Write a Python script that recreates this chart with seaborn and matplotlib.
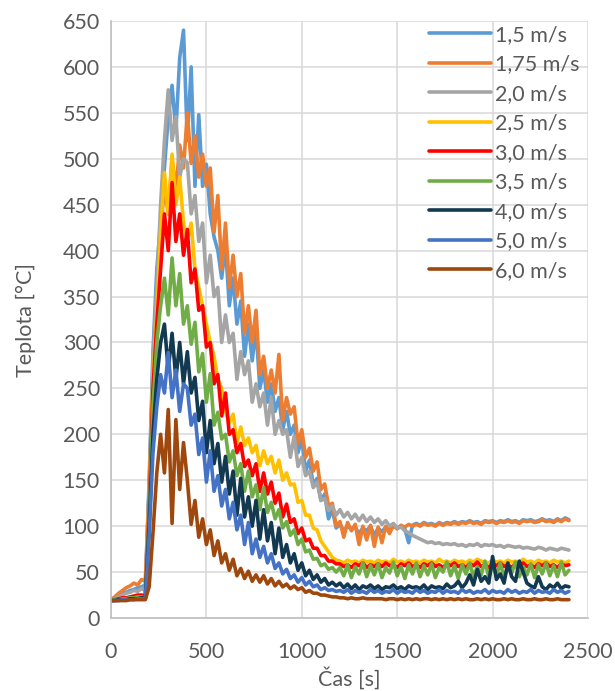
import numpy as np
import pandas as pd
import seaborn as sns
import matplotlib
matplotlib.use("Agg")
import matplotlib.pyplot as plt

# cas [s], krok 20 s
t = np.arange(0, 2401, 20)

labels = ["1,5 m/s", "1,75 m/s", "2,0 m/s", "2,5 m/s", "3,0 m/s",
          "3,5 m/s", "4,0 m/s", "5,0 m/s", "6,0 m/s"]
colors = ["#5B9BD5", "#ED7D31", "#A5A5A5", "#FFC000", "#FF0000",
          "#70AD47", "#12394F", "#4472C4", "#9E480E"]

v15 = [20, 22, 24, 27, 28, 30, 31, 33, 34, 36,
       150, 290, 380, 430, 490, 545, 580, 530, 610, 640,
       520, 600, 470, 548, 470, 494, 440, 415, 400, 370,
       405, 340, 370, 320, 345, 285, 320, 280, 315, 250,
       270, 235, 255, 225, 240, 205, 225, 200, 210, 180,
       195, 160, 172, 145, 152, 128, 135, 108, 118, 98,
       102, 95, 100, 97, 99, 92, 98, 95, 100, 90,
       98, 94, 99, 96, 100, 98, 100, 97, 82, 101,
       103, 101, 104, 102, 103, 101, 104, 102, 104, 103,
       105, 103, 105, 104, 106, 104, 105, 103, 106, 105,
       106, 104, 106, 105, 107, 105, 106, 104, 107, 106,
       107, 105, 106, 108, 106, 107, 105, 108, 106, 109, 107]

v175 = [20, 23, 27, 30, 33, 35, 38, 36, 42, 40,
        140, 270, 340, 420, 470, 440, 500, 465, 515, 490,
        550, 495, 525, 480, 505, 470, 490, 420, 460, 380,
        430, 360, 395, 350, 375, 310, 340, 300, 335, 265,
        285, 250, 270, 245, 287, 215, 240, 222, 230, 190,
        205, 175, 185, 160, 170, 140, 146, 122, 125, 100,
        105, 88, 104, 95, 102, 80, 100, 85, 101, 78,
        99, 82, 100, 92, 101, 97, 101, 99, 102, 100,
        102, 100, 103, 101, 102, 100, 103, 101, 103, 102,
        104, 102, 104, 103, 105, 103, 104, 102, 105, 104,
        105, 103, 105, 104, 106, 104, 105, 103, 106, 105,
        106, 104, 105, 107, 105, 106, 104, 107, 105, 108, 106]

v20 = [20, 21, 23, 25, 27, 28, 30, 29, 32, 30,
       140, 280, 360, 450, 520, 575, 520, 546, 480, 500,
       496, 440, 460, 410, 430, 365, 395, 350, 360, 300,
       330, 300, 310, 260, 290, 265, 280, 235, 255, 230,
       245, 210, 240, 200, 215, 200, 205, 175, 198, 165,
       175, 155, 160, 142, 148, 128, 130, 117, 122, 112,
       118, 110, 115, 108, 113, 106, 112, 105, 110, 104,
       108, 102, 106, 100, 103, 98, 99, 95, 93, 90,
       88, 86, 84, 82, 83, 81, 82, 80, 81, 80,
       81, 79, 80, 78, 80, 79, 81, 78, 80, 79,
       80, 78, 79, 77, 79, 78, 77, 78, 76, 77,
       76, 75, 77, 76, 74, 76, 75, 74, 76, 75, 74]

v25 = [20, 20, 21, 21, 22, 22, 23, 23, 24, 24,
       130, 260, 330, 420, 485, 440, 505, 450, 480, 430,
       412, 430, 380, 360, 340, 320, 300, 285, 260, 250,
       225, 212, 222, 190, 208, 188, 196, 180, 188, 166,
       182, 168, 176, 158, 172, 150, 158, 145, 146, 126,
       128, 112, 112, 98, 96, 84, 78, 72, 66, 63,
       62, 60, 63, 61, 62, 60, 63, 61, 62, 60,
       63, 61, 62, 60, 64, 61, 62, 60, 63, 61,
       62, 60, 63, 61, 62, 60, 64, 61, 62, 60,
       63, 61, 62, 60, 63, 61, 64, 62, 61, 60,
       63, 61, 62, 60, 63, 61, 62, 60, 64, 61,
       62, 60, 63, 61, 62, 60, 63, 61, 62, 60, 62]

v30 = [20, 20, 21, 22, 22, 23, 24, 25, 25, 24,
       120, 250, 320, 380, 440, 400, 474, 410, 440, 395,
       423, 365, 380, 335, 340, 295, 300, 255, 265, 220,
       245, 200, 205, 180, 190, 165, 172, 155, 168, 138,
       158, 135, 148, 125, 136, 110, 124, 104, 108, 92,
       98, 84, 86, 76, 76, 68, 68, 62, 62, 59,
       59, 56, 58, 55, 59, 57, 60, 55, 58, 56,
       59, 56, 60, 57, 58, 55, 59, 57, 60, 56,
       58, 55, 59, 57, 60, 56, 58, 55, 59, 57,
       60, 56, 58, 55, 59, 57, 61, 56, 58, 55,
       59, 57, 60, 56, 58, 55, 59, 57, 60, 56,
       58, 55, 59, 57, 60, 56, 58, 55, 59, 57, 58]

v35 = [20, 20, 20, 21, 21, 22, 22, 23, 23, 22,
       110, 230, 300, 340, 370, 330, 392, 340, 375, 320,
       340, 298, 322, 268, 288, 235, 266, 210, 224, 195,
       200, 170, 182, 155, 168, 138, 160, 132, 145, 118,
       142, 115, 126, 108, 118, 98, 105, 90, 96, 80,
       86, 72, 74, 64, 65, 57, 59, 53, 55, 50,
       55, 46, 58, 44, 56, 48, 60, 45, 57, 47,
       59, 44, 55, 49, 61, 46, 56, 43, 58, 48,
       60, 45, 57, 47, 59, 44, 55, 50, 61, 46,
       57, 43, 58, 48, 60, 45, 56, 47, 62, 44,
       58, 46, 60, 44, 57, 49, 61, 45, 56, 47,
       59, 44, 58, 48, 60, 46, 57, 45, 61, 47, 52]

v40 = [19, 19, 20, 20, 20, 21, 21, 21, 22, 22,
       100, 200, 260, 300, 320, 270, 310, 260, 300, 255,
       290, 245, 262, 215, 236, 180, 215, 168, 190, 148,
       176, 135, 160, 112, 152, 110, 132, 100, 128, 86,
       118, 84, 104, 70, 98, 66, 80, 60, 70, 52,
       60, 46, 52, 42, 47, 39, 43, 36, 39, 35,
       38, 33, 37, 32, 36, 31, 35, 33, 36, 32,
       35, 31, 34, 33, 36, 32, 34, 31, 35, 33,
       34, 32, 36, 31, 35, 33, 34, 32, 37, 33,
       35, 40, 33, 38, 47, 36, 53, 40, 45, 38,
       67, 42, 48, 38, 60, 45, 40, 62, 50, 38,
       35, 33, 45, 34, 31, 36, 33, 38, 32, 35, 34]

v50 = [19, 19, 19, 20, 20, 20, 20, 21, 21, 21,
       90, 180, 230, 265, 245, 289, 240, 270, 225, 255,
       250, 210, 222, 178, 196, 148, 182, 138, 155, 122,
       140, 108, 126, 96, 112, 80, 104, 70, 86, 66,
       78, 60, 70, 54, 60, 48, 53, 43, 47, 39,
       44, 36, 40, 34, 36, 31, 33, 30, 31, 29,
       30, 28, 31, 27, 30, 28, 29, 27, 31, 28,
       30, 27, 29, 28, 31, 27, 30, 28, 29, 27,
       31, 28, 30, 27, 29, 28, 31, 27, 30, 28,
       29, 27, 31, 28, 30, 27, 29, 28, 31, 27,
       30, 28, 29, 27, 31, 28, 30, 27, 29, 28,
       31, 27, 30, 28, 29, 27, 31, 28, 30, 27, 29]

v60 = [19, 19, 19, 19, 19, 20, 20, 20, 20, 20,
       34, 93, 158, 200, 158, 227, 103, 216, 140, 191,
       150, 102, 128, 88, 108, 80, 96, 68, 84, 60,
       70, 52, 64, 46, 54, 43, 51, 40, 47, 39,
       46, 37, 43, 35, 40, 34, 37, 32, 35, 31,
       33, 28, 30, 27, 27, 25, 25, 24, 23, 23,
       22, 22, 21, 22, 21, 21, 22, 21, 21, 21,
       21, 21, 20, 21, 21, 20, 21, 20, 21, 20,
       21, 20, 21, 21, 20, 21, 20, 21, 20, 21,
       20, 21, 20, 21, 20, 20, 21, 20, 21, 20,
       21, 20, 20, 21, 20, 21, 20, 20, 21, 20,
       20, 21, 20, 20, 21, 20, 20, 21, 20, 20, 20]

series = [v15, v175, v20, v25, v30, v35, v40, v50, v60]

frames = []
for lab, vals in zip(labels, series):
    assert len(vals) == len(t), (lab, len(vals))
    frames.append(pd.DataFrame({"Čas [s]": t, "Teplota [°C]": vals, "rychlost": lab}))
df = pd.concat(frames, ignore_index=True)

sns.set_style("whitegrid")
plt.rcParams["font.family"] = ["Lato", "DejaVu Sans"]
txt = "#595959"

fig = plt.figure(figsize=(6.15, 6.91), dpi=100)
ax = fig.add_axes([0.1805, 0.1056, 0.7756, 0.864])

sns.lineplot(data=df, x="Čas [s]", y="Teplota [°C]", hue="rychlost",
             hue_order=labels, palette=dict(zip(labels, colors)),
             estimator=None, sort=False, linewidth=2.6, ax=ax)

ax.set_xlim(0, 2500)
ax.set_ylim(0, 650)
ax.set_xticks(range(0, 2501, 500))
ax.set_yticks(range(0, 651, 50))
ax.grid(True, color="#D9D9D9", linewidth=1.1)
ax.set_axisbelow(True)
for s in ["top", "right"]:
    ax.spines[s].set_visible(False)
for s in ["left", "bottom"]:
    ax.spines[s].set_color("#BFBFBF")
    ax.spines[s].set_linewidth(1.2)
ax.tick_params(length=0, labelsize=15.5, labelcolor=txt)
ax.tick_params(axis="y", pad=8)
ax.tick_params(axis="x", pad=17)
ax.set_xlabel("Čas [s]", fontsize=15.5, color=txt, labelpad=4)
ax.set_ylabel("Teplota [°C]", fontsize=15.5, color=txt, labelpad=19)

handles, lbls = ax.get_legend_handles_labels()
leg = ax.legend(handles, lbls, loc="upper right", bbox_to_anchor=(1.01, 1.015),
                frameon=False, fontsize=15.5, handlelength=2.9,
                handletextpad=0.2, labelspacing=0.44, borderaxespad=0.2)
for txt_item in leg.get_texts():
    txt_item.set_color(txt)
for ln in leg.get_lines():
    ln.set_linewidth(2.6)

fig.savefig("out.png", dpi=100)
